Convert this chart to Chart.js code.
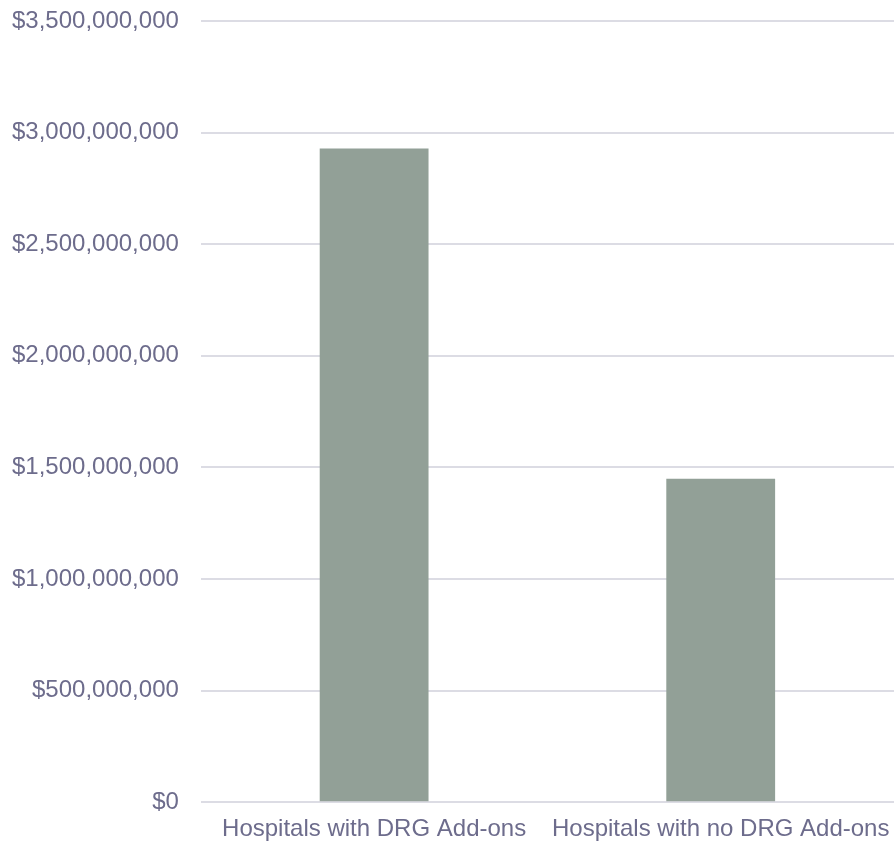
<!DOCTYPE html>
<html lang="en">
<head>
    <meta charset="UTF-8">
    <title>DRG Add-ons</title>
    <script src="https://cdn.jsdelivr.net/npm/chart.js@4/dist/chart.umd.min.js"></script>
    <style>
        html, body {
            margin: 0;
            padding: 0;
            background: #ffffff;
        }
        .wrap {
            width: 894px;
            height: 844px;
        }
    </style>
</head>
<body>
    <div class="wrap">
        <canvas id="drgChart"></canvas>
    </div>

    <script>
        const categories = ['Hospitals with DRG Add-ons', 'Hospitals with no DRG Add-ons'];
        const amounts = [2929000000, 1449000000];
        const yTicks = [0, 500000000, 1000000000, 1500000000, 2000000000, 2500000000, 3000000000, 3500000000];

        const textColor = '#6d6c8c';
        const gridColor = '#dcdce4';

        function money(v) {
            return '$' + Number(v).toLocaleString('en-US');
        }

        new Chart(document.getElementById('drgChart'), {
            type: 'bar',
            data: {
                labels: categories,
                datasets: [{
                    data: amounts,
                    backgroundColor: '#92a097',
                    borderWidth: 0,
                    barPercentage: 1,
                    categoryPercentage: 0.314
                }]
            },
            options: {
                responsive: true,
                maintainAspectRatio: false,
                animation: false,
                layout: {
                    padding: { top: 21, left: 12, right: 0, bottom: 0 }
                },
                plugins: {
                    legend: { display: false },
                    tooltip: { enabled: false }
                },
                scales: {
                    x: {
                        // invisible tick marks are used as spacing below the axis
                        grid: { display: false, drawTicks: true, tickLength: 13, tickColor: 'rgba(0,0,0,0)' },
                        border: { display: false },
                        ticks: {
                            color: textColor,
                            font: { family: 'Liberation Sans, Arial, sans-serif', size: 24 },
                            padding: 0,
                            maxRotation: 0,
                            autoSkip: false
                        }
                    },
                    y: {
                        min: 0,
                        max: 3500000000,
                        afterBuildTicks: axis => {
                            axis.ticks = yTicks.map(v => ({ value: v }));
                        },
                        grid: { color: gridColor, lineWidth: 2, drawTicks: true, tickLength: 22, tickColor: 'rgba(0,0,0,0)' },
                        border: { display: false },
                        ticks: {
                            color: textColor,
                            font: { family: 'Liberation Sans, Arial, sans-serif', size: 24 },
                            padding: 0,
                            callback: v => money(v)
                        }
                    }
                }
            }
        });
    </script>
</body>
</html>
